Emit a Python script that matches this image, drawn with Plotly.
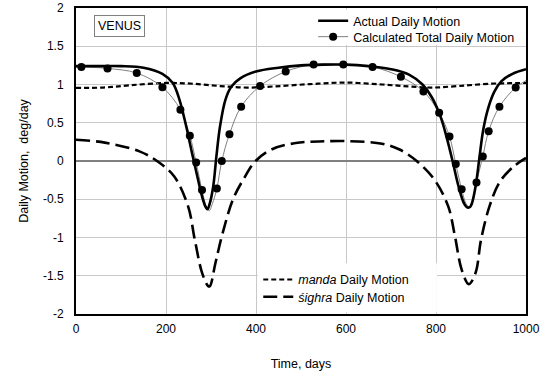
import plotly.graph_objects as go

# Actual daily motion (thick solid)
t_actual = [0, 50, 100, 150, 192, 215, 230, 245, 258, 268, 280, 288, 292, 297, 305, 312, 320, 332, 345, 365,
            400, 450, 500, 550, 600, 650, 700, 740, 770, 790, 810, 825, 838, 850, 862, 868, 872, 876, 880, 888,
            896, 905, 917, 930, 945, 970, 1000]
v_actual = [1.24, 1.24, 1.24, 1.22, 1.14, 1.02, 0.80, 0.45, 0.10, -0.16, -0.46, -0.60, -0.63, -0.56, -0.33, 0.06,
            0.45, 0.80, 0.97, 1.08, 1.17, 1.22, 1.25, 1.26, 1.26, 1.24, 1.20, 1.13, 1.00, 0.84, 0.58, 0.28, -0.03,
            -0.33, -0.55, -0.60, -0.61, -0.60, -0.55, -0.33, 0.02, 0.41, 0.71, 0.91, 1.04, 1.14, 1.20]

# Calculated total daily motion (markers)
t_calc = [12, 70, 135, 192, 232, 253, 267, 280, 313, 324, 341, 367, 409, 466, 528, 594, 659, 722, 772,
          807, 830, 844, 857, 890, 904, 917, 941, 977]
v_calc = [1.23, 1.21, 1.15, 0.965, 0.67, 0.33, -0.02, -0.38, -0.36, 0.00, 0.35, 0.71, 0.98, 1.17, 1.26, 1.26,
          1.23, 1.10, 0.91, 0.63, 0.32, -0.04, -0.37, -0.28, 0.06, 0.39, 0.71, 0.96]

# Calculated total daily motion (thin connecting curve)
t_calc_line = [0, 12, 70, 135, 192, 232, 253, 267, 280, 290, 296, 303, 313, 324, 341, 367, 409, 466, 528, 594,
               659, 722, 772, 807, 830, 844, 857, 867, 874, 881, 890, 904, 917, 941, 977, 1000]
v_calc_line = [1.23, 1.23, 1.21, 1.15, 0.965, 0.67, 0.33, -0.02, -0.38, -0.60, -0.65, -0.56, -0.36, 0.00, 0.35,
               0.71, 0.98, 1.17, 1.26, 1.26, 1.23, 1.10, 0.91, 0.63, 0.32, -0.04, -0.37, -0.56, -0.60, -0.52,
               -0.28, 0.06, 0.39, 0.71, 0.96, 1.05]

# manda daily motion (short dash)
t_manda = [0, 60, 120, 200, 260, 320, 380, 440, 520, 600, 680, 740, 790, 850, 920, 1000]
v_manda = [0.955, 0.96, 0.99, 1.02, 1.01, 0.98, 0.96, 0.975, 1.005, 1.025, 1.00, 0.975, 0.96, 0.98, 1.01, 1.02]

# sighra daily motion (long dash)
t_sighra = [0, 64, 141, 180, 218, 249, 264, 280, 293, 297, 310, 326, 349, 372, 399, 434, 488, 540, 603, 680,
            719, 757, 796, 827, 842, 857, 873, 888, 900, 919, 942, 973, 1000]
v_sighra = [0.278, 0.24, 0.126, 0.0, -0.2, -0.59, -1.03, -1.46, -1.63, -1.64, -1.33, -0.94, -0.50, -0.24, 0.0,
            0.15, 0.235, 0.255, 0.26, 0.226, 0.15, 0.0, -0.24, -0.59, -0.98, -1.42, -1.61, -1.46, -1.03, -0.59,
            -0.27, -0.07, 0.04]

x_ticks = [0, 200, 400, 600, 800, 1000]
y_ticks = [-2, -1.5, -1, -0.5, 0, 0.5, 1, 1.5, 2]
y_tick_labels = ["-2", "-1.5", "-1", "-0.5", "0", "0.5", "1", "1.5", "2"]

FONT = "Arial, Liberation Sans, sans-serif"
LEG_FONT = 12.5

fig = go.Figure()

fig.add_trace(go.Scatter(x=t_manda, y=v_manda, mode="lines", line=dict(color="black", width=2.2, dash="5px,3px",
                         shape="spline"), name="<i>manda</i> Daily Motion", legend="legend3"))
fig.add_trace(go.Scatter(x=t_sighra, y=v_sighra, mode="lines", line=dict(color="black", width=2.6, dash="14px,6px",
                         shape="spline"), name="<i>śighra</i> Daily Motion", legend="legend4"))
fig.add_trace(go.Scatter(x=t_calc_line, y=v_calc_line, mode="lines", line=dict(color="#808080", width=1,
                         shape="spline"), showlegend=False, hoverinfo="skip"))
fig.add_trace(go.Scatter(x=t_actual, y=v_actual, mode="lines", line=dict(color="black", width=2.6, shape="spline"),
                         name="Actual Daily Motion", legend="legend"))
fig.add_trace(go.Scatter(x=t_calc, y=v_calc, mode="markers", marker=dict(color="black", size=8),
                         showlegend=False))
fig.add_trace(go.Scatter(x=[None], y=[None], mode="lines+markers", line=dict(color="#808080", width=1),
                         marker=dict(color="black", size=8), name="Calculated Total Daily Motion", legend="legend2"))


def leg(x, y):
    return dict(x=x, xanchor="left", y=y, yanchor="top", bgcolor="rgba(0,0,0,0)", borderwidth=0,
                font=dict(size=LEG_FONT), itemwidth=30, tracegroupgap=0)


fig.update_layout(
    width=545, height=372,
    margin=dict(l=76, r=19, t=7, b=58),
    paper_bgcolor="white", plot_bgcolor="white",
    font=dict(family=FONT, size=12, color="black"),
    legend=leg(0.527, 1.003),
    legend2=leg(0.527, 0.951),
    legend3=leg(0.405, 0.160),
    legend4=leg(0.405, 0.104),
    shapes=[
        dict(type="rect", xref="paper", yref="paper", x0=0.508, x1=0.9967, y0=0.879, y1=0.995,
             fillcolor="white", line=dict(width=0), layer="above"),
        dict(type="rect", xref="paper", yref="paper", x0=0.404, x1=0.802, y0=0.005, y1=0.166,
             fillcolor="white", line=dict(width=0), layer="above"),
    ],
    annotations=[dict(text="VENUS", xref="paper", yref="paper", x=0.0956, y=0.94, xanchor="center",
                      yanchor="middle", showarrow=False,
                      bordercolor="#808080", borderwidth=1, borderpad=3, bgcolor="white",
                      font=dict(size=12.5))],
)
fig.update_xaxes(range=[0, 1000], tickvals=x_ticks, showgrid=True, gridcolor="#c8c8c8", gridwidth=1,
                 showline=True, linecolor="black", linewidth=2, mirror=True, ticks="", zeroline=False,
                 ticklabelstandoff=3, automargin=False,
                 title=dict(text="Time, days", standoff=24, font=dict(size=12.5)))
fig.update_yaxes(range=[-2, 2], tickvals=y_ticks, ticktext=y_tick_labels, showgrid=True, gridcolor="#c8c8c8",
                 gridwidth=1, showline=True, linecolor="black", linewidth=2, mirror=True, ticks="",
                 zeroline=True, zerolinecolor="#808080", zerolinewidth=2, ticklabelstandoff=8, automargin=False,
                 title=dict(text="Daily Motion,\u00a0 deg/day", standoff=12, font=dict(size=12.5)))

fig.write_html("out.html")
